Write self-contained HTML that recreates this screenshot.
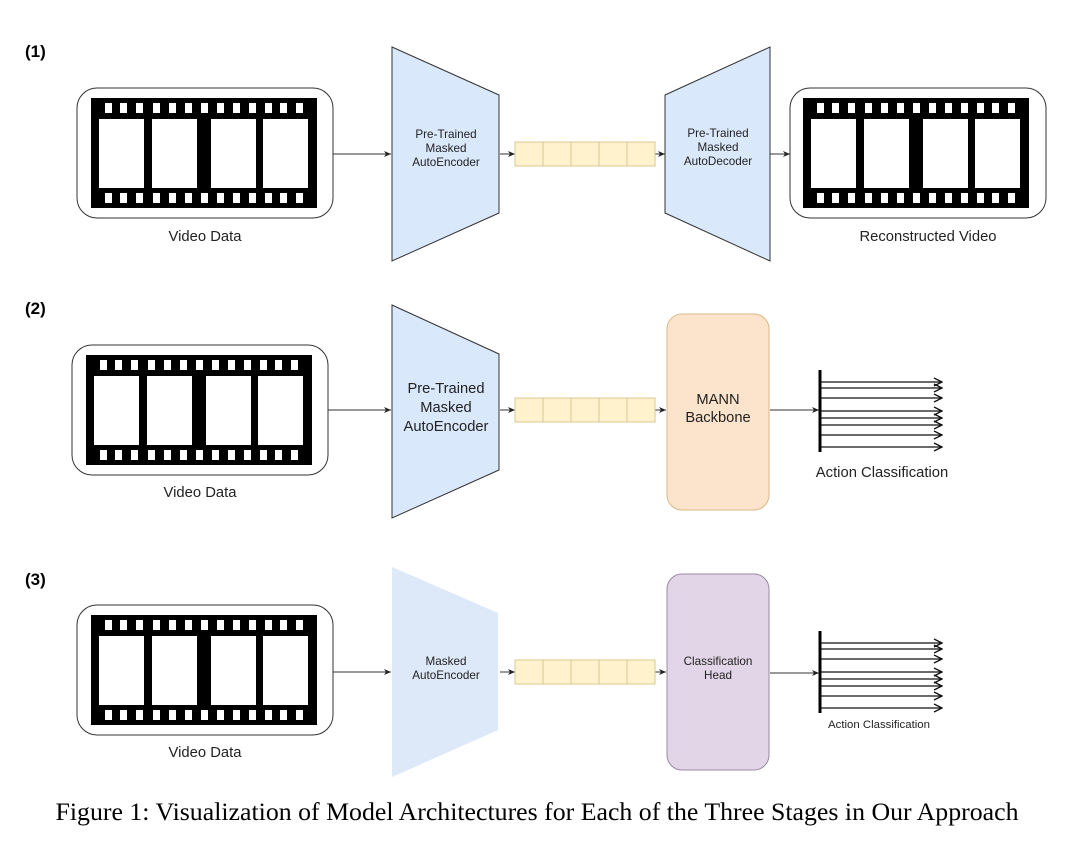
<!DOCTYPE html>
<html><head><meta charset="utf-8"><style>
html,body{margin:0;padding:0;background:#fff;}
svg{display:block;}
text{font-family:"Liberation Sans",Arial,sans-serif;fill:#222;}
</style></head><body>
<svg width="1080" height="846" viewBox="0 0 1080 846" xmlns="http://www.w3.org/2000/svg">
<defs>
<g id="film">
<rect x="0" y="0" width="226" height="110" fill="#000"/>
<g fill="#fff">
<rect x="14" y="5" width="7" height="10"/><rect x="29" y="5" width="7" height="10"/><rect x="45" y="5" width="7" height="10"/><rect x="62" y="5" width="7" height="10"/><rect x="78" y="5" width="7" height="10"/><rect x="94" y="5" width="7" height="10"/><rect x="110" y="5" width="7" height="10"/><rect x="126" y="5" width="7" height="10"/><rect x="142" y="5" width="7" height="10"/><rect x="158" y="5" width="7" height="10"/><rect x="174" y="5" width="7" height="10"/><rect x="189" y="5" width="7" height="10"/><rect x="205" y="5" width="7" height="10"/>
<rect x="14" y="95" width="7" height="10"/><rect x="29" y="95" width="7" height="10"/><rect x="45" y="95" width="7" height="10"/><rect x="62" y="95" width="7" height="10"/><rect x="78" y="95" width="7" height="10"/><rect x="94" y="95" width="7" height="10"/><rect x="110" y="95" width="7" height="10"/><rect x="126" y="95" width="7" height="10"/><rect x="142" y="95" width="7" height="10"/><rect x="158" y="95" width="7" height="10"/><rect x="174" y="95" width="7" height="10"/><rect x="189" y="95" width="7" height="10"/><rect x="205" y="95" width="7" height="10"/>
<rect x="8" y="21" width="45" height="69"/><rect x="61" y="21" width="45" height="69"/><rect x="120" y="21" width="45" height="69"/><rect x="172" y="21" width="45" height="69"/>
</g>
</g>
<g id="vec">
<rect x="0" y="0" width="140" height="24" fill="#fff2cc" stroke="#d9c98f" stroke-width="1"/>
<line x1="28" y1="0" x2="28" y2="24" stroke="#d9c98f"/><line x1="56" y1="0" x2="56" y2="24" stroke="#d9c98f"/><line x1="84" y1="0" x2="84" y2="24" stroke="#d9c98f"/><line x1="112" y1="0" x2="112" y2="24" stroke="#d9c98f"/>
</g>
<marker id="ah" markerWidth="8" markerHeight="8" refX="7" refY="4" orient="auto" markerUnits="userSpaceOnUse"><path d="M0,1 L7,4 L0,7 L2,4 Z" fill="#222"/></marker>
<marker id="oh" markerWidth="10" markerHeight="10" refX="9" refY="5" orient="auto" markerUnits="userSpaceOnUse"><path d="M1,1 L9,5 L1,9" fill="none" stroke="#111" stroke-width="1.3"/></marker>
<g id="act">
<line x1="0" y1="0" x2="0" y2="82" stroke="#000" stroke-width="3"/>
<g stroke="#111" stroke-width="1.3" marker-end="url(#oh)">
<line x1="1" y1="12" x2="122" y2="12"/><line x1="1" y1="18" x2="122" y2="18"/><line x1="1" y1="28" x2="122" y2="28"/><line x1="1" y1="41" x2="122" y2="41"/><line x1="1" y1="48" x2="122" y2="48"/><line x1="1" y1="55" x2="122" y2="55"/><line x1="1" y1="65" x2="122" y2="65"/><line x1="1" y1="77" x2="122" y2="77"/>
</g>
</g>
</defs>

<g stroke="#333" stroke-width="1" fill="none" marker-end="url(#ah)">
<line x1="333" y1="154" x2="391" y2="154"/><line x1="500" y1="154" x2="515" y2="154"/><line x1="655" y1="154" x2="665" y2="154"/><line x1="770" y1="154" x2="790" y2="154"/>
<line x1="328" y1="410" x2="391" y2="410"/><line x1="500" y1="410" x2="515" y2="410"/><line x1="655" y1="410" x2="666" y2="410"/><line x1="770" y1="410" x2="819" y2="410"/>
<line x1="333" y1="672" x2="391" y2="672"/><line x1="500" y1="672" x2="515" y2="672"/><line x1="655" y1="672" x2="666" y2="672"/><line x1="770" y1="673" x2="819" y2="673"/>
</g>

<text x="25" y="57" font-size="17" font-weight="bold" style="fill:#000">(1)</text>
<text x="25" y="314" font-size="17" font-weight="bold" style="fill:#000">(2)</text>
<text x="25" y="585" font-size="17" font-weight="bold" style="fill:#000">(3)</text>

<!-- row 1 -->
<rect x="77" y="88" width="256" height="130" rx="20" fill="#fff" stroke="#333"/>
<use href="#film" x="91" y="98"/>
<text x="205" y="241" font-size="14.8" text-anchor="middle">Video Data</text>
<polygon points="392,47 499,95 499,213 392,261" fill="#dae8fc" stroke="#333"/>
<text x="446" y="138" font-size="11.7" text-anchor="middle">Pre-Trained</text>
<text x="446" y="152" font-size="11.7" text-anchor="middle">Masked</text>
<text x="446" y="166" font-size="11.7" text-anchor="middle">AutoEncoder</text>
<use href="#vec" x="515" y="142"/>
<polygon points="665,95 770,47 770,261 665,213" fill="#dae8fc" stroke="#333"/>
<text x="718" y="137" font-size="11.7" text-anchor="middle">Pre-Trained</text>
<text x="718" y="151" font-size="11.7" text-anchor="middle">Masked</text>
<text x="718" y="165" font-size="11.7" text-anchor="middle">AutoDecoder</text>
<rect x="790" y="88" width="256" height="130" rx="20" fill="#fff" stroke="#333"/>
<use href="#film" x="803" y="98"/>
<text x="928" y="241" font-size="14.8" text-anchor="middle">Reconstructed Video</text>

<!-- row 2 -->
<rect x="72" y="345" width="256" height="130" rx="20" fill="#fff" stroke="#333"/>
<use href="#film" x="86" y="355"/>
<text x="200" y="497" font-size="14.8" text-anchor="middle">Video Data</text>
<polygon points="392,305 499,354 499,470 392,518" fill="#dae8fc" stroke="#333"/>
<text x="446" y="393" font-size="14.7" text-anchor="middle">Pre-Trained</text>
<text x="446" y="412" font-size="14.7" text-anchor="middle">Masked</text>
<text x="446" y="431" font-size="14.7" text-anchor="middle">AutoEncoder</text>
<use href="#vec" x="515" y="398"/>
<rect x="667" y="314" width="102" height="196" rx="15" fill="#fce4cc" stroke="#d8b88a"/>
<text x="718" y="404" font-size="14.7" text-anchor="middle">MANN</text>
<text x="718" y="422" font-size="14.7" text-anchor="middle">Backbone</text>
<use href="#act" x="820" y="370"/>
<text x="882" y="477" font-size="14.8" text-anchor="middle">Action Classification</text>

<!-- row 3 -->
<rect x="77" y="605" width="256" height="130" rx="20" fill="#fff" stroke="#333"/>
<use href="#film" x="91" y="615"/>
<text x="205" y="757" font-size="14.8" text-anchor="middle">Video Data</text>
<polygon points="392,567 498,613 498,730 392,777" fill="#dde8f8"/>
<text x="446" y="665" font-size="11.7" text-anchor="middle">Masked</text>
<text x="446" y="679" font-size="11.7" text-anchor="middle">AutoEncoder</text>
<use href="#vec" x="515" y="660"/>
<rect x="667" y="574" width="102" height="196" rx="15" fill="#e1d5e7" stroke="#9a8aa6"/>
<text x="718" y="665" font-size="11.7" text-anchor="middle">Classification</text>
<text x="718" y="679" font-size="11.7" text-anchor="middle">Head</text>
<use href="#act" x="820" y="631"/>
<text x="879" y="728" font-size="11.4" text-anchor="middle">Action Classification</text>

<text x="537" y="820" font-size="25" text-anchor="middle" textLength="963" lengthAdjust="spacingAndGlyphs" style="font-family:'Liberation Serif',serif;fill:#000">Figure 1: Visualization of Model Architectures for Each of the Three Stages in Our Approach</text>
</svg>
</body></html>
